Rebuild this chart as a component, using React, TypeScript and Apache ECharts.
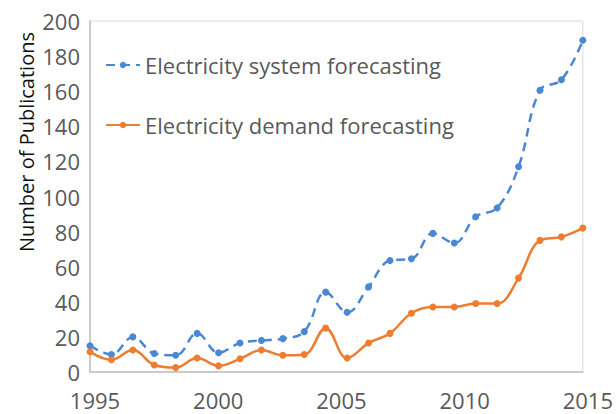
import React, { useEffect, useRef } from "react";
import * as echarts from "echarts";

const pointIds = Array.from({ length: 24 }, (_, i) => `P${i + 1}`);
const systemValues = [15, 10, 20, 10.5, 9.5, 22, 11, 16.5, 18, 19, 23, 45.5, 34, 48.5, 63.5, 64.5, 79, 73.5, 88.5, 93.5, 117, 160.5, 166.5, 189];
const demandValues = [11.5, 7, 12.5, 4, 2.5, 8, 3.5, 7.5, 12.5, 9.5, 10, 25, 8, 16.5, 22, 33.5, 37, 37, 39, 39, 53.5, 75, 77, 82];
const yearMin = 1995;
const yearMax = 2015;
const yearStep = 5;
const yMax = 200;
const yStep = 20;

const textColor = "#595959";
const font = "'Open Sans', sans-serif";

export default function App() {
  const ref = useRef<HTMLDivElement>(null);
  useEffect(() => {
    if (!ref.current) return;
    const chart = echarts.init(ref.current, null, { renderer: "svg" });
    chart.setOption({
      animation: false,
      backgroundColor: "#ffffff",
      textStyle: { fontFamily: font, color: textColor },
      grid: { left: 90, right: 30, top: 21, bottom: 42, show: true, borderColor: "#d9d9d9", borderWidth: 1 },
      legend: {
        left: 100,
        top: 49,
        orient: "vertical",
        itemGap: 38,
        itemWidth: 34,
        itemHeight: 8,
        textStyle: { fontFamily: font, color: textColor, fontSize: 22 },
        data: ["Electricity system forecasting", "Electricity demand forecasting"],
      },
      xAxis: [
        {
          type: "category",
          data: pointIds,
          boundaryGap: false,
          show: false,
        },
        {
          type: "value",
          min: yearMin,
          max: yearMax,
          interval: yearStep,
          position: "bottom",
          axisLine: { show: true, lineStyle: { color: "#bfbfbf", width: 1.5 } },
          axisTick: { show: false },
          splitLine: { show: false },
          axisLabel: {
            color: textColor,
            fontSize: 22,
            lineHeight: 22,
            fontFamily: font,
            margin: 17,
            padding: [0, 0, 0, 10],
            formatter: (v: number) => String(v),
          },
        },
      ],
      yAxis: {
        type: "value",
        min: 0,
        max: yMax,
        interval: yStep,
        axisLine: { show: true, lineStyle: { color: "#bfbfbf", width: 1.5 } },
        axisTick: { show: false },
        splitLine: { show: false },
        axisLabel: { color: textColor, fontSize: 22, lineHeight: 22, fontFamily: font, margin: 10 },
      },
      graphic: [
        {
          type: "text",
          x: 26,
          y: 142,
          rotation: Math.PI / 2,
          style: {
            text: "Number of Publications",
            fill: "#111111",
            fontSize: 20,
            fontFamily: font,
            textAlign: "center",
            textVerticalAlign: "middle",
          },
        },
      ],
      series: [
        {
          name: "Electricity system forecasting",
          type: "line",
          xAxisIndex: 0,
          data: systemValues,
          smooth: 0.4,
          symbol: "circle",
          symbolSize: 7,
          itemStyle: { color: "#4a87d4" },
          lineStyle: { color: "#4a87d4", width: 2.5, type: [9, 6] },
        },
        {
          name: "Electricity demand forecasting",
          type: "line",
          xAxisIndex: 0,
          data: demandValues,
          smooth: 0.4,
          symbol: "circle",
          symbolSize: 7,
          itemStyle: { color: "#ed7d31" },
          lineStyle: { color: "#ed7d31", width: 2.5 },
        },
      ],
    });
    return () => chart.dispose();
  }, []);
  return <div ref={ref} style={{ position: "absolute", left: 0, top: 0, width: 616, height: 414 }} />;
}
